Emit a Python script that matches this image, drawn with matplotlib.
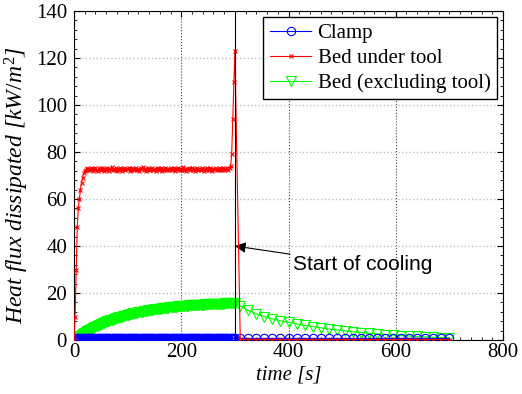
import numpy as np
import matplotlib
matplotlib.use("Agg")
import matplotlib.pyplot as plt
from matplotlib.ticker import MultipleLocator

# heating phase: samples every 2 s from 0 to 300 s
t_heat = list(range(0, 301, 2))
# cooling phase: samples every 15 s
t_cool = list(range(310, 701, 15))

red_heat = [0, 10, 30, 48, 56, 60, 64, 67, 69, 71,
            72.0, 72.5, 73.1, 72.4, 72.9, 72.2, 73.3, 72.6, 72.0, 72.8,
            73.4, 72.5, 71.9, 72.7, 73.0, 72.3, 73.2, 72.6, 72.1, 72.9,
            72.4, 73.1, 72.7, 71.8, 72.6, 73.5, 72.2, 72.8, 72.5, 73.0,
            72.1, 72.9, 72.4, 73.3, 72.6, 72.0, 72.7, 73.1, 72.3, 72.8,
            72.6, 73.4, 71.9, 72.5, 73.0, 72.7, 72.2, 72.9, 73.2, 72.4,
            72.8, 72.1, 73.0, 72.6, 73.6, 72.3, 72.7, 72.0, 72.9, 73.1,
            72.5, 72.2, 72.8, 73.3, 72.4, 72.6, 71.9, 72.9, 73.0, 72.5,
            72.7, 73.2, 72.1, 72.8, 72.4, 73.4, 72.6, 72.2, 72.9, 72.5,
            73.0, 72.3, 72.7, 73.1, 72.0, 72.8, 72.6, 73.3, 72.4, 72.9,
            72.2, 72.7, 73.5, 72.5, 72.1, 72.9, 72.6, 73.0, 72.3, 72.8,
            73.2, 72.4, 72.7, 71.9, 72.6, 73.1, 72.5, 72.9, 72.2, 73.3,
            72.6, 72.0, 72.8, 72.4, 73.0, 72.7, 72.3, 73.4, 72.5, 72.1,
            72.9, 72.6, 73.1, 72.4, 72.8, 72.2, 73.0, 72.7, 72.5, 73.2,
            72.3, 72.8, 72.6, 73.0, 72.4, 73.3, 74.0, 79, 94, 110,
            123]
red_cool = [0.3, 0.2, 0.2, 0.2, 0.2, 0.2, 0.2, 0.2, 0.2, 0.2,
            0.2, 0.2, 0.2, 0.2, 0.2, 0.2, 0.2, 0.2, 0.2, 0.2,
            0.2, 0.2, 0.2, 0.2, 0.2, 0.2, 0.2]

green_heat = [0, 0.3, 0.7, 1.0, 1.3, 1.6, 1.9, 2.2, 2.5, 2.8,
              3.1, 3.4, 3.7, 3.9, 4.2, 4.4, 4.7, 4.9, 5.2, 5.4,
              5.6, 5.9, 6.1, 6.3, 6.5, 6.7, 6.9, 7.1, 7.3, 7.5,
              7.7, 7.9, 8.0, 8.2, 8.4, 8.6, 8.7, 8.9, 9.0, 9.2,
              9.3, 9.5, 9.6, 9.8, 9.9, 10.0, 10.2, 10.3, 10.4, 10.6,
              10.7, 10.8, 10.9, 11.0, 11.1, 11.3, 11.4, 11.5, 11.6, 11.7,
              11.8, 11.9, 12.0, 12.1, 12.1, 12.2, 12.3, 12.4, 12.5, 12.6,
              12.6, 12.7, 12.8, 12.9, 12.9, 13.0, 13.1, 13.2, 13.2, 13.3,
              13.4, 13.4, 13.5, 13.5, 13.6, 13.7, 13.7, 13.8, 13.8, 13.9,
              13.9, 14.0, 14.0, 14.1, 14.1, 14.2, 14.2, 14.3, 14.3, 14.4,
              14.4, 14.4, 14.5, 14.5, 14.6, 14.6, 14.6, 14.7, 14.7, 14.8,
              14.8, 14.8, 14.9, 14.9, 14.9, 14.9, 15.0, 15.0, 15.0, 15.1,
              15.1, 15.1, 15.2, 15.2, 15.2, 15.2, 15.3, 15.3, 15.3, 15.3,
              15.3, 15.4, 15.4, 15.4, 15.4, 15.4, 15.5, 15.5, 15.5, 15.5,
              15.5, 15.6, 15.6, 15.6, 15.6, 15.6, 15.7, 15.7, 15.7, 15.7,
              15.7]
green_cool = [14.5, 12.6, 11.2, 10.0, 9.0, 8.2, 7.5, 6.8, 6.2, 5.7,
              5.2, 4.7, 4.3, 3.9, 3.5, 3.2, 2.9, 2.6, 2.3, 2.1,
              1.9, 1.7, 1.5, 1.3, 1.2, 1.0, 0.9]

blue_heat = [0.0, 0.5, 0.6, 0.7, 0.7, 0.7, 0.7, 0.7, 0.7, 0.7,
             0.7, 0.7, 0.7, 0.7, 0.7, 0.7, 0.7, 0.7, 0.7, 0.7,
             0.7, 0.7, 0.7, 0.7, 0.7, 0.7, 0.7, 0.7, 0.7, 0.7,
             0.7, 0.7, 0.7, 0.7, 0.7, 0.7, 0.7, 0.7, 0.7, 0.7,
             0.7, 0.7, 0.7, 0.7, 0.7, 0.7, 0.7, 0.7, 0.7, 0.7,
             0.7, 0.7, 0.7, 0.7, 0.7, 0.7, 0.7, 0.7, 0.7, 0.7,
             0.7, 0.7, 0.7, 0.7, 0.7, 0.7, 0.7, 0.7, 0.7, 0.7,
             0.7, 0.7, 0.7, 0.7, 0.7, 0.7, 0.7, 0.7, 0.7, 0.7,
             0.7, 0.7, 0.7, 0.7, 0.7, 0.7, 0.7, 0.7, 0.7, 0.7,
             0.7, 0.7, 0.7, 0.7, 0.7, 0.7, 0.7, 0.7, 0.7, 0.7,
             0.7, 0.7, 0.7, 0.7, 0.7, 0.7, 0.7, 0.7, 0.7, 0.7,
             0.7, 0.7, 0.7, 0.7, 0.7, 0.7, 0.7, 0.7, 0.7, 0.7,
             0.7, 0.7, 0.7, 0.7, 0.7, 0.7, 0.7, 0.7, 0.7, 0.7,
             0.7, 0.7, 0.7, 0.7, 0.7, 0.7, 0.7, 0.7, 0.7, 0.7,
             0.7, 0.7, 0.7, 0.7, 0.7, 0.7, 0.7, 0.7, 0.7, 0.7,
             0.7]
blue_cool = [0.7, 0.7, 0.7, 0.7, 0.7, 0.7, 0.7, 0.7, 0.7, 0.7,
             0.7, 0.7, 0.7, 0.7, 0.7, 0.7, 0.7, 0.7, 0.7, 0.7,
             0.7, 0.7, 0.7, 0.7, 0.7, 0.7, 0.7]

t_all = np.array(t_heat + t_cool)
red = np.array(red_heat + red_cool)
green = np.array(green_heat + green_cool)
blue = np.array(blue_heat + blue_cool)
assert len(t_all) == len(red) == len(green) == len(blue)

plt.rcParams['font.family'] = ['Liberation Serif', 'DejaVu Serif']
plt.rcParams['mathtext.fontset'] = 'custom'
plt.rcParams['mathtext.it'] = 'Liberation Serif:italic'
plt.rcParams['mathtext.rm'] = 'Liberation Serif'

fig = plt.figure(figsize=(5.22, 3.94), dpi=100)
ax = fig.add_axes([0.1418, 0.137, 0.8218, 0.835])

ax.plot(t_all, blue, color='#0000ff', lw=0.8, marker='o', ms=6, mfc='none', mew=0.8, label='Clamp', zorder=3)
ax.plot(t_all, red, color='#ff0000', lw=0.8, marker='x', ms=3.5, mew=0.8, label='Bed under tool', zorder=4)
ax.plot(t_all, green, color='#00ff00', lw=0.8, marker='v', ms=7, mfc='none', mew=0.8, label='Bed (excluding tool)', zorder=2)

ax.axvline(300, color='black', lw=0.8, zorder=5)

ax.annotate('Start of cooling', xy=(300, 40), xytext=(408, 32),
            fontsize=15, family=['Liberation Sans', 'DejaVu Sans'],
            va='center', ha='left',
            arrowprops=dict(arrowstyle='-|>', color='black', lw=0.8, mutation_scale=16, shrinkA=0, shrinkB=0))

ax.set_xlim(0, 800)
ax.set_ylim(0, 140)
ax.xaxis.set_major_locator(MultipleLocator(200))
ax.xaxis.set_minor_locator(MultipleLocator(20))
ax.yaxis.set_major_locator(MultipleLocator(20))
ax.yaxis.set_minor_locator(MultipleLocator(4))
ax.tick_params(which='both', direction='in', top=True, right=True, labelsize=15)
ax.tick_params(which='major', length=4)
ax.tick_params(axis='y', which='major', pad=5)
ax.tick_params(axis='x', which='major', pad=2)
ax.tick_params(which='minor', length=2)

ax.xaxis.grid(True, linestyle=':', color='#444444', lw=0.8)
ax.yaxis.grid(True, linestyle=':', color='#bbbbbb', lw=1.0)
ax.set_axisbelow(True)

ax.set_xlabel('time [s]', fontsize=15, style='italic', labelpad=3)
ax.set_ylabel('Heat flux dissipated [$kW/m^2$]', fontsize=17, style='italic', va='center')
ax.yaxis.set_label_coords(-0.132, 0.47)

leg = ax.legend(loc='upper right', fontsize=15, fancybox=False, framealpha=1,
                edgecolor='black', borderpad=0.3, handlelength=2.0, labelspacing=0.25,
                handletextpad=0.3, borderaxespad=0.3)
leg.get_frame().set_linewidth(1.0)

fig.savefig('out.png', dpi=100)
